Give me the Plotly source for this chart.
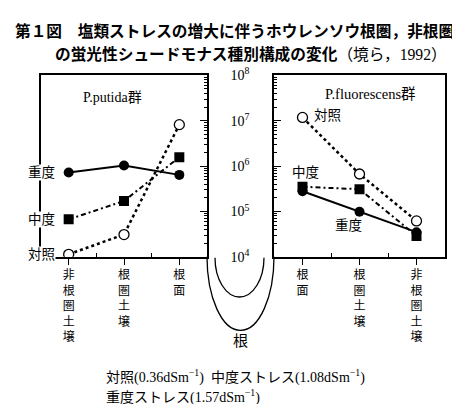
import numpy as np
import plotly.graph_objects as go

W, H = 460, 404

# ---- data (cells per g, log scale) ----
putida_sites = ["非根圏土壌", "根圏土壌", "根面"]
fluor_sites = ["根面", "根圏土壌", "非根圏土壌"]
cat_pos = [1, 2, 3]

putida_heavy = [7.2e5, 1.03e6, 6.4e5]
putida_mid = [6.7e4, 1.7e5, 1.57e6]
putida_ctrl = [1.14e4, 3.1e4, 8.2e6]

fluor_ctrl = [1.18e7, 6.7e5, 6.2e4]
fluor_mid = [3.5e5, 3.1e5, 2.9e4]
fluor_heavy = [2.8e5, 9.9e4, 3.5e4]

decades = [1e4, 1e5, 1e6, 1e7, 1e8]

SERIF = "Liberation Serif, Noto Sans CJK JP"
GOTHIC = "Noto Sans CJK JP"


def px(x):
    return x / W


def py(y):
    return 1 - y / H


def vert(s):
    # 縦書きラベル
    return "<br>".join(list(s))


styles = {
    "重度": dict(line=dict(color="black", width=2, dash="solid"),
               marker=dict(symbol="circle", size=10, color="black")),
    "中度": dict(line=dict(color="black", width=2, dash="5px,3px,2px,3px"),
               marker=dict(symbol="square", size=10, color="black")),
    "対照": dict(line=dict(color="black", width=2.5, dash="dot"),
               marker=dict(symbol="circle", size=10, color="white",
                           line=dict(color="black", width=1.3))),
}

fig = go.Figure()

for name, vals in [("対照", putida_ctrl), ("中度", putida_mid), ("重度", putida_heavy)]:
    fig.add_trace(go.Scatter(x=cat_pos, y=vals, mode="lines+markers", name=name,
                             xaxis="x", yaxis="y", showlegend=False, **styles[name]))

for name, vals in [("対照", fluor_ctrl), ("重度", fluor_heavy), ("中度", fluor_mid)]:
    fig.add_trace(go.Scatter(x=cat_pos, y=vals, mode="lines+markers", name=name,
                             xaxis="x2", yaxis="y2", showlegend=False, **styles[name]))

ydom = [py(250), py(60)]
common_x = dict(range=[0.5, 3.5], tickvals=cat_pos, ticks="outside", ticklen=6,
                tickwidth=1.3, tickcolor="black", showline=True, linecolor="black",
                linewidth=1.5, mirror=True, showgrid=False, zeroline=False,
                tickfont=dict(family=SERIF, size=12, color="black"),
                minor=dict(tickmode="array", tickvals=[1.5, 2.5], ticks="inside",
                           ticklen=4, tickwidth=1.2, tickcolor="black", showgrid=False))
common_y = dict(type="log", range=[4, 8], tickvals=decades, ticks="inside", ticklen=7,
                tickwidth=1.3, tickcolor="black", showline=True, linecolor="black",
                linewidth=1.5, mirror=True, showgrid=False, zeroline=False,
                minor=dict(dtick="D1", ticks="inside", ticklen=3, tickwidth=1,
                           tickcolor="black", showgrid=False))

fig.update_layout(
    width=W, height=H,
    margin=dict(l=0, r=0, t=0, b=0),
    paper_bgcolor="white", plot_bgcolor="white",
    xaxis=dict(domain=[px(33), px(199)], anchor="y",
               ticktext=[vert(s) for s in putida_sites], **common_x),
    yaxis=dict(domain=ydom, anchor="x", side="right", showticklabels=False, **common_y),
    xaxis2=dict(domain=[px(266), px(437)], anchor="y2",
                ticktext=[vert(s) for s in fluor_sites], **common_x),
    yaxis2=dict(domain=ydom, anchor="x2", side="left",
                ticktext=[f"10<sup>{int(np.log10(d))}</sup>" for d in decades],
                ticklabelstandoff=20,
                tickfont=dict(family=SERIF, size=14, color="black"), **common_y),
)


def half_ellipse(x0, x1, ytop, ybot):
    k = 0.5523
    cx = (x0 + x1) / 2
    rx = (x1 - x0) / 2
    ry = ybot - ytop
    pts = [
        (x0, ytop), (x0, ytop + k * ry), (cx - k * rx, ybot), (cx, ybot),
        (cx + k * rx, ybot), (x1, ytop + k * ry), (x1, ytop),
    ]
    p = [f"{px(a):.5f},{py(b):.5f}" for a, b in pts]
    return f"M {p[0]} C {p[1]} {p[2]} {p[3]} C {p[4]} {p[5]} {p[6]}"


# 根の模式図
fig.add_shape(type="path", xref="paper", yref="paper",
              path=half_ellipse(199, 266, 250, 327),
              line=dict(color="black", width=1.3))
fig.add_shape(type="path", xref="paper", yref="paper",
              path=half_ellipse(207, 256, 251, 292),
              line=dict(color="black", width=1.3))


def note(text, x, y, size=13, family=SERIF, xanchor="center", **kw):
    fig.add_annotation(text=text, x=px(x), y=py(y), xref="paper", yref="paper",
                       showarrow=False, xanchor=xanchor, yanchor="middle",
                       font=dict(family=family, size=size, color="black"), **kw)


# タイトル
note("<b>第１図　塩類ストレスの増大に伴うホウレンソウ根圏，非根圏</b>", 5, 13,
     size=15.7, family=GOTHIC, xanchor="left")
note("<b>の蛍光性シュードモナス種別構成の変化</b>"
     "<span style='font-family:Liberation Serif, Noto Sans CJK JP'>（境ら，1992）</span>",
     45, 37, size=15.7, family=GOTHIC, xanchor="left")

# パネル内ラベル
note("P.putida群", 104, 83, size=14)
note("P.fluorescens群", 362, 80, size=14.5)

# 左パネル左枠上の系列ラベル（枠線を切って表示）
for name, vals in [("重度", putida_heavy), ("中度", putida_mid), ("対照", putida_ctrl)]:
    fig.add_annotation(text=name, x=0.5, y=np.log10(vals[0]), xref="x", yref="y",
                       showarrow=False, xanchor="center", yanchor="middle",
                       bgcolor="white", borderpad=0,
                       font=dict(family=SERIF, size=13.5, color="black"))

# 右パネルの系列ラベル
note("対照", 319, 102, size=13.5)
note("中度", 297, 162, size=13.5)
note("重度", 340, 217, size=13.5)

note("根", 233, 338, size=15)

# 凡例
note("対照(0.36dSm<sup>−1</sup>)  中度ストレス(1.08dSm<sup>−1</sup>)", 96, 375,
     size=14, xanchor="left")
note("重度ストレス(1.57dSm<sup>−1</sup>)", 96, 396, size=14, xanchor="left")

fig.write_html("out.html")
